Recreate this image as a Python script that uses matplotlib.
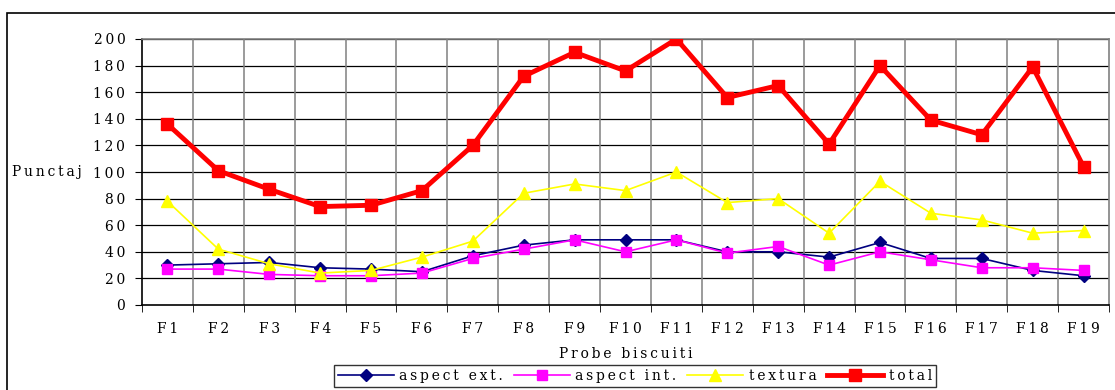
import matplotlib
matplotlib.use("Agg")
import matplotlib.pyplot as plt
import numpy as np
from matplotlib.patches import Rectangle

categories = ["F1", "F2", "F3", "F4", "F5", "F6", "F7", "F8", "F9", "F10",
              "F11", "F12", "F13", "F14", "F15", "F16", "F17", "F18", "F19"]
aspect_ext = [30, 31, 32, 28, 27, 25, 37, 45, 49, 49, 49, 40, 40, 36, 47, 35, 35, 26, 22]
aspect_int = [27, 27, 23, 22, 22, 24, 35, 42, 49, 40, 49, 39, 44, 30, 40, 34, 28, 28, 26]
textura = [78, 42, 31, 24, 26, 36, 48, 84, 91, 86, 100, 77, 80, 54, 93, 69, 64, 54, 56]
total = [136, 101, 87, 74, 75, 86, 120, 172, 190, 176, 200, 156, 165, 121, 180, 139, 128, 179, 104]
yticks = [0, 20, 40, 60, 80, 100, 120, 140, 160, 180, 200]
series_names = ["aspect ext.", "aspect int.", "textura", "total"]

plt.rcParams['font.family'] = ['DejaVu Serif']
FS = 10


def sp(s):
    # emulate the letter-spaced rendering of the original
    return '\u2009'.join(s)


W, H = 1115, 390
fig = plt.figure(figsize=(W / 100, H / 100), dpi=100)
L, R, T, B = 142, 1109, 39, 305
ax = fig.add_axes([L / W, 1 - B / H, (R - L) / W, (B - T) / H])

x = np.arange(len(categories))
ax.plot(x, aspect_ext, color='#000080', lw=1.2, marker='D', ms=6, label=sp(series_names[0]), zorder=3)
ax.plot(x, aspect_int, color='#FF00FF', lw=1.2, marker='s', ms=7, label=sp(series_names[1]), zorder=3)
ax.plot(x, textura, color='#FFFF00', lw=1.2, marker='^', ms=9, label=sp(series_names[2]), zorder=3)
ax.plot(x, total, color='#FF0000', lw=3.5, marker='s', ms=8, label=sp(series_names[3]), zorder=4)

ax.set_xlim(-0.5, len(categories) - 0.5)
ax.set_ylim(0, 200)
ax.set_yticks(yticks)
ax.set_yticklabels([sp(str(v)) for v in yticks], fontsize=FS)
ax.set_xticks(x)
ax.set_xticklabels([sp(c) for c in categories], fontsize=FS)
ax.set_xticks(np.arange(-0.5, len(categories), 1), minor=True)
ax.tick_params(axis='x', which='major', length=0, pad=12)
ax.tick_params(axis='x', which='minor', length=5, direction='out', color='black')
ax.tick_params(axis='y', length=5, direction='out', pad=7, color='black')

for v in yticks[1:]:
    ax.axhline(v, color='black', lw=0.9, zorder=1)
for b in np.arange(0.5, len(categories) - 0.5, 1):
    ax.axvline(b, color='#808080', lw=1.1, zorder=1)

for s in ['top', 'right']:
    ax.spines[s].set_color('#808080')
    ax.spines[s].set_linewidth(1.2)
for s in ['left', 'bottom']:
    ax.spines[s].set_color('black')
    ax.spines[s].set_linewidth(1.2)

ax.set_xlabel(sp('Probe biscuiti'), fontsize=FS, labelpad=8)
fig.text(12 / W, 1 - 172 / H, sp('Punctaj'), fontsize=FS, ha='left', va='center')

leg = fig.legend(loc='upper center', bbox_to_anchor=(635 / W, 1 - 365 / H), ncol=4,
                 fontsize=FS, frameon=True, fancybox=False, edgecolor='black',
                 handlelength=4.0, columnspacing=0.8, handletextpad=0.4, borderpad=0.3,
                 borderaxespad=0)
leg.get_frame().set_linewidth(1.0)

fig.patches.append(Rectangle((7 / W, -0.1), 1.2, 1 - 13 / H + 0.1, transform=fig.transFigure,
                             fill=False, edgecolor='black', lw=1.2))

fig.savefig('out.png', dpi=100)
